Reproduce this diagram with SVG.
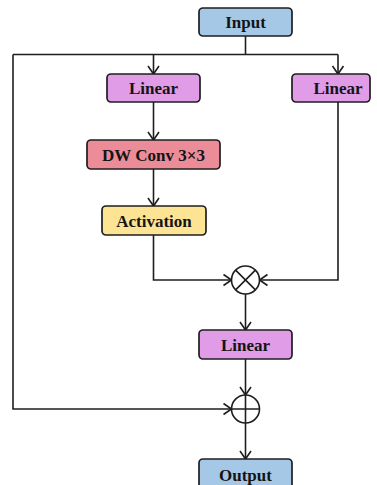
<svg xmlns="http://www.w3.org/2000/svg" width="377" height="485" viewBox="0 0 377 485">
  <style>
    .box { stroke: #1e1e1e; stroke-width: 1.7; }
    .io { fill: #a5c8e6; }
    .lin { fill: #e09ce7; }
    .dw { fill: #ec8c98; }
    .act { fill: #fde394; }
    .lbl { font-family: "Liberation Serif", "Times New Roman", serif; font-weight: bold; font-size: 17px; fill: #141414; text-anchor: middle; }
    .wire { fill: none; stroke: #1e1e1e; stroke-width: 1.6; }
    .op { fill: #ffffff; stroke: #1e1e1e; stroke-width: 1.6; }
  </style>
  <defs>
    <marker id="arrow" markerUnits="userSpaceOnUse" markerWidth="12" markerHeight="14" viewBox="-10 -7 12 14" refX="0" refY="0" orient="auto">
      <path d="M-8,-5.5 L0,0 L-8,5.5" fill="none" stroke="#1e1e1e" stroke-width="1.6"/>
    </marker>
  </defs>
  <rect width="377" height="485" fill="#ffffff"/>

  <!-- connectors -->
  <g id="connectors">
    <path class="wire" d="M245.5,36 V54.5"/>
    <path class="wire" d="M13,54.5 H338"/>
    <path class="wire" d="M153.5,54.5 V74" marker-end="url(#arrow)"/>
    <path class="wire" d="M338,54.5 V74" marker-end="url(#arrow)"/>
    <path class="wire" d="M13,54.5 V409 H231.5" marker-end="url(#arrow)"/>
    <path class="wire" d="M153.5,102 V140" marker-end="url(#arrow)"/>
    <path class="wire" d="M153.5,169 V206" marker-end="url(#arrow)"/>
    <path class="wire" d="M153.5,235 V280 H231.5" marker-end="url(#arrow)"/>
    <path class="wire" d="M338,102 V280 H259.5" marker-end="url(#arrow)"/>
    <path class="wire" d="M245.5,294 V330" marker-end="url(#arrow)"/>
    <path class="wire" d="M245.5,359 V395" marker-end="url(#arrow)"/>
    <path class="wire" d="M245.5,423 V459" marker-end="url(#arrow)"/>
  </g>

  <g id="input">
    <rect class="box io" x="199" y="8" width="93" height="28" rx="4"/>
    <text class="lbl" x="245.5" y="28">Input</text>
  </g>
  <g id="linear-left">
    <rect class="box lin" x="107" y="74" width="93" height="28" rx="4"/>
    <text class="lbl" x="153.5" y="94">Linear</text>
  </g>
  <g id="linear-right">
    <rect class="box lin" x="292" y="74" width="78" height="28" rx="4"/>
    <text class="lbl" x="338" y="94">Linear</text>
  </g>
  <g id="dwconv">
    <rect class="box dw" x="87" y="140" width="133" height="29" rx="4"/>
    <text class="lbl" x="153.5" y="160.5">DW Conv 3×3</text>
  </g>
  <g id="activation">
    <rect class="box act" x="102" y="206" width="104" height="29" rx="4"/>
    <text class="lbl" x="154" y="226.5">Activation</text>
  </g>
  <g id="multiply">
    <circle class="op" cx="245.5" cy="280" r="14"/>
    <path class="wire" d="M235.6,270.1 L255.4,289.9 M255.4,270.1 L235.6,289.9"/>
  </g>
  <g id="linear-out">
    <rect class="box lin" x="199" y="330" width="93" height="29" rx="4"/>
    <text class="lbl" x="245.5" y="350.5">Linear</text>
  </g>
  <g id="add">
    <circle class="op" cx="245.5" cy="409" r="14"/>
    <path class="wire" d="M231.5,409 H259.5 M245.5,395 V423"/>
  </g>
  <g id="output">
    <rect class="box io" x="199" y="459" width="93" height="30" rx="4"/>
    <text class="lbl" x="245.5" y="480.5">Output</text>
  </g>
</svg>
